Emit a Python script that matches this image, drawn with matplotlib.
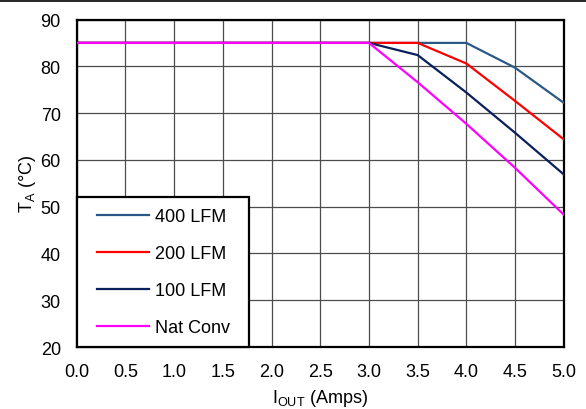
import numpy as np
import matplotlib as mpl
import matplotlib.pyplot as plt
from matplotlib.lines import Line2D
from matplotlib.patches import Rectangle

# data
i_out = [0.0, 0.5, 1.0, 1.5, 2.0, 2.5, 3.0, 3.5, 4.0, 4.5, 5.0]
lfm_400 = [85, 85, 85, 85, 85, 85, 85, 85, 85, 79.7, 72.2]
lfm_200 = [85, 85, 85, 85, 85, 85, 85, 85, 80.6, 72.6, 64.4]
lfm_100 = [85, 85, 85, 85, 85, 85, 85, 82.4, 74.4, 65.8, 56.9]
nat_conv = [85, 85, 85, 85, 85, 85, 85, 76.6, 67.7, 58.3, 48.3]

series = [
    ("400 LFM", lfm_400, "#2B5887"),
    ("200 LFM", lfm_200, "#FF0000"),
    ("100 LFM", lfm_100, "#0A1F5C"),
    ("Nat Conv", nat_conv, "#FF00FF"),
]

xticks = np.arange(0, 5.01, 0.5)
yticks = np.arange(20, 91, 10)

mpl.rcParams.update({
    "font.family": ["Liberation Sans", "DejaVu Sans"],
    "mathtext.fontset": "custom",
    "mathtext.rm": "Liberation Sans",
    "mathtext.it": "Liberation Sans:italic",
    "font.size": 13,
})

fig = plt.figure(figsize=(5.86, 4.10), dpi=100)
ax = fig.add_axes([0.131, 0.151, 0.831, 0.799])

for label, y, c in series:
    ax.plot(i_out, y, color=c, lw=1.6, label=label, zorder=3)

ax.set_xlim(0, 5)
ax.set_ylim(20, 90)
ax.set_xticks(xticks)
ax.set_yticks(yticks)
ax.set_xticklabels([f"{v:.1f}" for v in xticks])
ax.tick_params(axis="x", length=0, pad=11.5, labelsize=13)
ax.tick_params(axis="y", length=0, pad=11.5, labelsize=13)
ax.grid(True, color="0.3", lw=0.9, zorder=1)
for s in ax.spines.values():
    s.set_linewidth(1.6)
    s.set_color("black")

ax.set_xlabel(r"I$_{\mathrm{OUT}}$ (Amps)", fontsize=13, labelpad=5)
ax.set_ylabel(r"T$_{\mathrm{A}}$ (°C)", fontsize=13, labelpad=2)

# legend frame drawn by hand so it can be wider than the entries need
box_w, box_h = 0.353, 0.458
frame = Rectangle((0, 0), box_w, box_h, transform=ax.transAxes,
                  facecolor="white", edgecolor="black", lw=1.6,
                  zorder=4.5, clip_on=False)
ax.add_patch(frame)
leg = ax.legend(loc="center left", bbox_to_anchor=(0.041, box_h / 2),
                borderaxespad=0, borderpad=0, frameon=False,
                handlelength=2.9, handletextpad=0.3, labelspacing=1.1,
                fontsize=13)
leg.set_zorder(5)

# thin rule across the top of the page
fig.add_artist(Line2D([0, 1], [0.995, 0.995], color="black", lw=1.2,
                      transform=fig.transFigure))

fig.savefig("out.png", dpi=100)
